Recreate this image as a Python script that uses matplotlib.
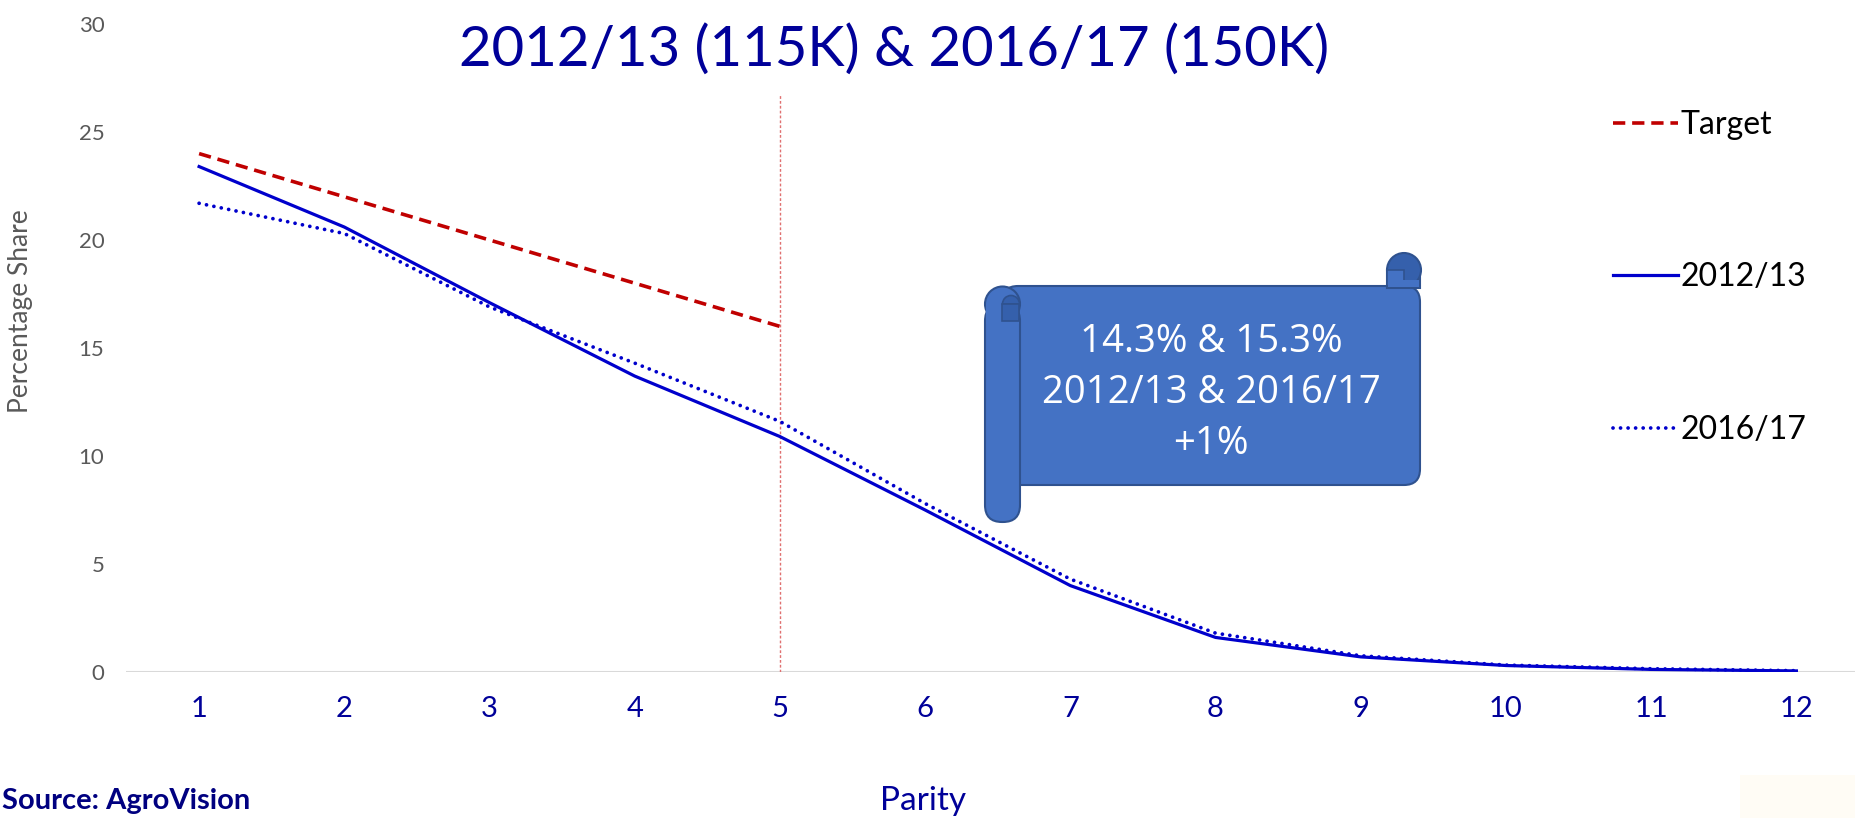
import matplotlib
matplotlib.use("Agg")
import matplotlib.pyplot as plt
from matplotlib.patches import FancyBboxPatch, Circle, Rectangle, Wedge

# data
parity = [1, 2, 3, 4, 5, 6, 7, 8, 9, 10, 11, 12]
target_parity = [1, 2, 3, 4, 5]
target_share = [24.0, 22.0, 20.0, 18.0, 16.0]
share_2012 = [23.4, 20.6, 17.1, 13.7, 10.9, 7.5, 4.0, 1.6, 0.7, 0.3, 0.12, 0.05]
share_2016 = [21.7, 20.3, 16.9, 14.3, 11.6, 7.8, 4.3, 1.8, 0.75, 0.32, 0.15, 0.06]
cutoff_parity = 5
cutoff_top = 26.7

title = "2012/13 (115K) & 2016/17 (150K)"
note_lines = ["14.3% & 15.3%", "2012/13 & 2016/17", "+1%"]

W, H = 1856, 818
NAVY = "#000099"
BLUE = "#0000CC"
RED = "#C00000"
GREY = "#595959"

plt.rcParams["font.family"] = ["Lato", "DejaVu Sans"]

fig = plt.figure(figsize=(W / 100, H / 100), dpi=100)

# axes: x 0.5..12.5 spans px 126..1869, y 0..30 spans px 672..24
x0, x1 = 126.5, 1869.0
y0, y1 = 672.0, 24.0
ax = fig.add_axes([x0 / W, (H - y0) / H, (x1 - x0) / W, (y0 - y1) / H])
ax.set_xlim(0.5, 12.5)
ax.set_ylim(0, 30)

ax.plot(target_parity, target_share, color=RED, lw=2.6, linestyle=(0, (3.4, 1.9)),
        label="Target", zorder=3)
ax.plot(parity, share_2012, color=BLUE, lw=2.3, label="2012/13", zorder=3)
ax.plot(parity, share_2016, color=BLUE, lw=2.7, linestyle=(0, (0.01, 2.0)),
        dash_capstyle="round", label="2016/17", zorder=3)
ax.vlines(cutoff_parity, 0, cutoff_top, color="#E07070", lw=1.0,
          linestyles=(0, (2, 1.5)), zorder=2)
ax.axhline(0, color="#D9D9D9", lw=1.5, zorder=1)

for s in ax.spines.values():
    s.set_visible(False)
ax.set_xticks(parity)
ax.set_yticks([0, 5, 10, 15, 20, 25, 30])
ax.tick_params(axis="x", length=0, pad=17, labelsize=21, labelcolor=NAVY)
ax.tick_params(axis="y", length=0, pad=16, labelsize=16, labelcolor=GREY)
ax.set_ylabel("Percentage Share", fontsize=19, color=GREY)
ax.yaxis.set_label_coords((33 - x0) / (x1 - x0), (y0 - 311) / (y0 - y1))

leg = ax.legend(loc="upper left", bbox_to_anchor=(1613 / W, (H - 110) / H),
                bbox_transform=fig.transFigure, frameon=False, fontsize=23,
                handlelength=2.05, handletextpad=0.05, labelspacing=3.83,
                borderpad=0, borderaxespad=0)
for t in leg.get_texts():
    t.set_color("black")

# overlay in pixel coordinates for titles and the scroll shape
ov = fig.add_axes([0, 0, 1, 1], zorder=5)
ov.set_xlim(0, W)
ov.set_ylim(H, 0)
ov.axis("off")
ov.patch.set_alpha(0)

ov.text(894, 50, title, ha="center", va="center", fontsize=40.5, color=NAVY)
ov.text(923, 801, "Parity", ha="center", va="center", fontsize=24, color=NAVY)
ov.text(2, 801, "Source: AgroVision", ha="left", va="center", fontsize=21,
        color="#000080", fontweight="bold")
ov.add_patch(Rectangle((1740, 775), 116, 43, color="#FFFCF5", lw=0))

FILL = "#4472C4"
EDGE = "#2F528F"
DARK = "#3560AC"

# body of the scroll
ov.add_patch(FancyBboxPatch((1002, 286), 418, 199, boxstyle="round,pad=0,rounding_size=16",
                            fc=FILL, ec=EDGE, lw=1.5, zorder=1))
# right top curl
ov.add_patch(Rectangle((1387, 270), 33, 18, fc=FILL, ec=EDGE, lw=1.5, zorder=2))
ov.add_patch(Circle((1404, 270), 17, fc=DARK, ec=EDGE, lw=1.5, zorder=3))
ov.add_patch(Rectangle((1387, 270), 17, 16, fc=FILL, ec=EDGE, lw=1.2, zorder=4))
ov.add_patch(Rectangle((1388, 280), 31, 7, fc=FILL, lw=0, zorder=4))
# left roll
ov.add_patch(FancyBboxPatch((985, 304), 35, 218, boxstyle="round,pad=0,rounding_size=17",
                            fc=FILL, ec=EDGE, lw=1.5, zorder=2))
ov.add_patch(Circle((1002.5, 304), 17.5, fc=FILL, ec=EDGE, lw=1.5, zorder=3))
ov.add_patch(Rectangle((986, 304), 33, 20, fc=FILL, lw=0, zorder=3))
ov.add_patch(Wedge((1011, 304), 8.5, 180, 360, fc=DARK, ec=EDGE, lw=1.2, zorder=4))
ov.add_patch(Rectangle((1002.5, 304), 17, 17, fc=DARK, ec=EDGE, lw=1.2, zorder=4))

for i, line in enumerate(note_lines):
    ov.text(1211, 342 + i * 51, line, ha="center", va="center", fontsize=27.5,
            color="white", family=["Open Sans", "DejaVu Sans"], zorder=6)

fig.savefig("out.png", dpi=100)
